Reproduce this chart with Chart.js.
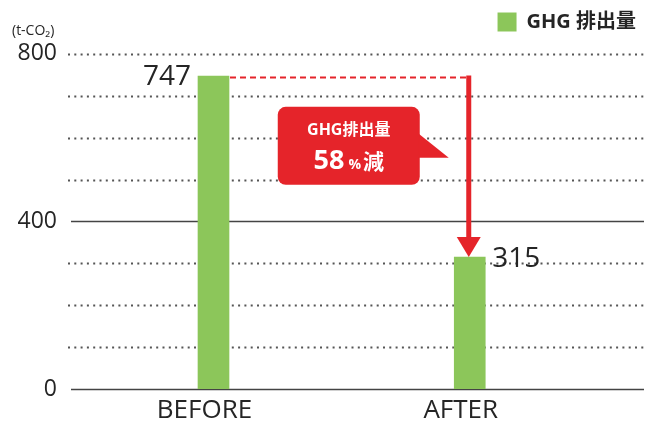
<!DOCTYPE html>
<html lang="ja">
<head>
<meta charset="utf-8">
<title>GHG排出量</title>
<script src="https://cdn.jsdelivr.net/npm/chart.js@4/dist/chart.umd.min.js"></script>
<style>
  html, body { margin: 0; padding: 0; background: #fff; }
</style>
</head>
<body>
<canvas id="ghgChart" width="656" height="427"></canvas>
<script>
const periods = ['BEFORE', 'AFTER'];
const emissions = [747, 315];
const yLabelled = [0, 400, 800];
const seriesName = 'GHG 排出量';
const unitLabel = '(t-CO₂)';
const calloutTitle = 'GHG排出量';

const FONT = '"Open Sans", "Noto Sans CJK JP", sans-serif';
const GREEN = '#8cc65a';
const RED = '#e5242a';
const INK = '#252525';

const reduction = Math.round((1 - emissions[1] / emissions[0]) * 100);

function roundRect(ctx, x, y, w, h, r) {
  ctx.moveTo(x + r, y);
  ctx.arcTo(x + w, y, x + w, y + h, r);
  ctx.arcTo(x + w, y + h, x, y + h, r);
  ctx.arcTo(x, y + h, x, y, r);
  ctx.arcTo(x, y, x + w, y, r);
  ctx.closePath();
}

const decorations = {
  id: 'decorations',
  beforeDatasetsDraw(chart) {
    // solid lines at the labelled ticks (except the top), dotted for the rest
    const { ctx, chartArea: a, scales: { y } } = chart;
    ctx.save();
    y.ticks.forEach(t => {
      const py = Math.round(y.getPixelForValue(t.value)) + 0.5;
      const solid = yLabelled.includes(t.value) && t.value < y.max;
      ctx.beginPath();
      if (solid) {
        ctx.strokeStyle = '#444';
        ctx.lineWidth = 1.5;
        ctx.setLineDash([]);
        ctx.moveTo(a.left + 1, py);
      } else {
        ctx.strokeStyle = '#555';
        ctx.lineWidth = 2;
        ctx.setLineDash([2, 4.3]);
        ctx.moveTo(a.left - 2, py);
      }
      ctx.lineTo(a.right, py);
      ctx.stroke();
    });
    ctx.restore();
  },
  afterDatasetsDraw(chart) {
    const { ctx, chartArea: a } = chart;
    const [b0, b1] = chart.getDatasetMeta(0).data;
    const half = b0.width / 2;
    ctx.save();

    // values next to the bar tops
    ctx.fillStyle = INK;
    ctx.font = `500 28px ${FONT}`;
    ctx.textBaseline = 'middle';
    ctx.textAlign = 'right';
    ctx.fillText(String(emissions[0]), b0.x - half - 7, b0.y + 1);
    ctx.textAlign = 'left';
    ctx.fillText(String(emissions[1]), b1.x + half + 7, b1.y + 2);

    // dashed guide from BEFORE level, then arrow down to AFTER
    const ax = b1.x - 1;
    ctx.strokeStyle = RED;
    ctx.lineWidth = 2;
    ctx.setLineDash([6, 4]);
    ctx.beginPath();
    ctx.moveTo(b0.x + half + 1, b0.y + 1.5);
    ctx.lineTo(ax - 2, b0.y + 1.5);
    ctx.stroke();

    ctx.setLineDash([]);
    ctx.lineWidth = 5;
    ctx.beginPath();
    ctx.moveTo(ax, b0.y - 0.5);
    ctx.lineTo(ax, b1.y - 18);
    ctx.stroke();

    ctx.fillStyle = RED;
    ctx.beginPath();
    ctx.moveTo(ax - 12, b1.y - 20);
    ctx.lineTo(ax + 12, b1.y - 20);
    ctx.lineTo(ax, b1.y);
    ctx.closePath();
    ctx.fill();

    // callout box with tail pointing at the arrow
    const bw = 142, bh = 78;
    const bx = b1.x - 50 - bw;
    const by = a.top + 53;
    ctx.beginPath();
    roundRect(ctx, bx, by, bw, bh, 8);
    ctx.fill();
    ctx.beginPath();
    ctx.moveTo(bx + bw - 1, by + 27);
    ctx.lineTo(ax - 20, by + 51);
    ctx.lineTo(bx + bw - 1, by + 51);
    ctx.closePath();
    ctx.fill();

    const cx = bx + bw / 2;
    ctx.fillStyle = '#fff';
    ctx.textAlign = 'center';
    ctx.textBaseline = 'alphabetic';
    ctx.font = `bold 16px ${FONT}`;
    ctx.fillText(calloutTitle, cx, by + 28);

    const parts = [
      { text: String(reduction), font: `bold 27px ${FONT}`, gap: 4 },
      { text: '%', font: `bold 14px ${FONT}`, gap: 2 },
      { text: '減', font: `bold 21px ${FONT}`, gap: 0 }
    ];
    let total = 0;
    parts.forEach(p => { ctx.font = p.font; p.w = ctx.measureText(p.text).width; total += p.w + p.gap; });
    let tx = cx - total / 2;
    ctx.textAlign = 'left';
    parts.forEach(p => {
      ctx.font = p.font;
      ctx.fillText(p.text, tx, by + 62);
      tx += p.w + p.gap;
    });

    ctx.restore();
  }
};

new Chart(document.getElementById('ghgChart'), {
  type: 'bar',
  data: {
    datasets: [{
      label: seriesName,
      data: emissions.map((v, i) => ({ x: i, y: v })),
      backgroundColor: GREEN,
      barThickness: 31
    }]
  },
  options: {
    responsive: false,
    animation: false,
    layout: { padding: { top: 4, right: 12, bottom: 0, left: 12 } },
    plugins: {
      legend: {
        position: 'top',
        align: 'end',
        labels: {
          boxWidth: 19,
          boxHeight: 19,
          padding: 8,
          color: INK,
          font: { family: FONT, size: 20, weight: 'bold' }
        }
      },
      // unit label sits just under the legend row, on the left
      title: {
        display: true,
        text: unitLabel,
        position: 'top',
        align: 'start',
        weight: 500,
        color: INK,
        font: { family: FONT, size: 14, weight: 'normal' },
        padding: { top: -19, bottom: 14 }
      },
      tooltip: { enabled: false }
    },
    scales: {
      x: {
        type: 'linear',
        min: -0.56,
        max: 1.68,
        bounds: 'data',
        offset: false,
        grid: { display: false, drawTicks: false },
        border: { display: false },
        afterBuildTicks: s => { s.ticks = periods.map((_, i) => ({ value: i })); },
        afterFit: s => { s.height = 38; },
        ticks: {
          callback: v => periods[v],
          labelOffset: -9,
          padding: 6,
          maxRotation: 0,
          autoSkip: false,
          color: INK,
          font: { family: FONT, size: 26, weight: '500' }
        }
      },
      y: {
        min: 0,
        max: 800,
        grid: { display: false, drawTicks: false },
        border: { display: false },
        afterFit: s => { s.width = 58; },
        ticks: {
          stepSize: 100,
          callback: v => (yLabelled.includes(v) ? v : ''),
          padding: 13,
          color: INK,
          font: { family: FONT, size: 23, weight: '500' }
        }
      }
    }
  },
  plugins: [decorations]
});
</script>
</body>
</html>
